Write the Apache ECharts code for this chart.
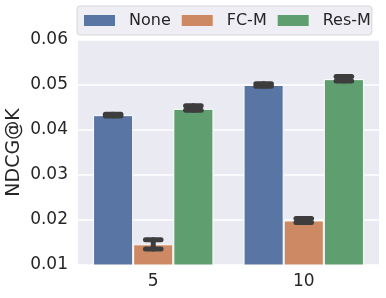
<!DOCTYPE html>
<html>
<head>
<meta charset="utf-8">
<script src="https://cdn.jsdelivr.net/npm/echarts@6/dist/echarts.min.js"></script>
<style>html,body{margin:0;padding:0;background:#fff;}#c{width:386px;height:298px;}</style>
</head>
<body>
<div id="c"></div>
<script>
var categories = ['5', '10'];
var seriesNames = ['None', 'FC-M', 'Res-M'];
var colors = ['#5975A4', '#CC8963', '#5F9E6E'];
var noneVals = [0.0433, 0.0500];
var fcmVals = [0.0146, 0.0199];
var resmVals = [0.0447, 0.0513];
var noneLow = [0.0431, 0.0497];
var noneHigh = [0.0435, 0.0503];
var fcmLow = [0.01356, 0.01945];
var fcmHigh = [0.01562, 0.02035];
var resmLow = [0.0444, 0.0509];
var resmHigh = [0.0454, 0.0519];
var yTicks = [0.01, 0.02, 0.03, 0.04, 0.05, 0.06];

var vals = [noneVals, fcmVals, resmVals];
var lows = [noneLow, fcmLow, resmLow];
var highs = [noneHigh, fcmHigh, resmHigh];
var FONT = 'DejaVu Sans';
var TXT = '#262626';

var chart = echarts.init(document.getElementById('c'), null, {renderer: 'canvas'});

var series = [];
seriesNames.forEach(function (name, si) {
  series.push({
    name: name,
    type: 'bar',
    data: vals[si],
    barGap: '0%',
    barCategoryGap: '20%',
    itemStyle: {color: colors[si], borderColor: '#ffffff', borderWidth: 1},
    z: 2
  });
});
seriesNames.forEach(function (name, si) {
  var errData = categories.map(function (c, ci) { return [ci, lows[si][ci], highs[si][ci]]; });
  series.push({
    type: 'custom',
    name: name + '-err',
    z: 5,
    silent: true,
    data: errData,
    encode: {x: 0, y: [1, 2]},
    renderItem: function (params, api) {
      var ci = api.value(0);
      var lo = api.coord([ci, api.value(1)]);
      var hi = api.coord([ci, api.value(2)]);
      var catW = api.size([1, 0])[0];
      var bw = catW * 0.8 / 3;
      var x = lo[0] + (si - 1) * bw;
      var h = 7.8;
      var st = {stroke: '#3D3D3D', lineWidth: 5, lineCap: 'round'};
      return {
        type: 'group',
        children: [
          {type: 'line', shape: {x1: x, y1: lo[1], x2: x, y2: hi[1]}, style: st},
          {type: 'line', shape: {x1: x - h, y1: lo[1], x2: x + h, y2: lo[1]}, style: st},
          {type: 'line', shape: {x1: x - h, y1: hi[1], x2: x + h, y2: hi[1]}, style: st}
        ]
      };
    }
  });
});

chart.setOption({
  animation: false,
  backgroundColor: '#ffffff',
  textStyle: {fontFamily: FONT},
  grid: {left: 78, right: 7, top: 40, bottom: 33, show: true, backgroundColor: '#EAEAF2', borderWidth: 0,
    containLabel: false, outerBoundsMode: 'none'},
  legend: {
    data: seriesNames.map(function (n) { return {name: n, icon: 'rect'}; }),
    left: 77, top: 6,
    padding: [4, 1, 4, 7],
    itemWidth: 31, itemHeight: 11, itemGap: 11,
    itemStyle: {borderWidth: 0},
    backgroundColor: '#EEEEF4',
    borderColor: '#D6D6D6', borderWidth: 1, borderRadius: 3,
    textStyle: {fontFamily: FONT, fontSize: 16, color: TXT, padding: [0, 0, 0, 9], lineHeight: 21}
  },
  xAxis: {
    type: 'category',
    data: categories,
    axisLine: {show: false},
    axisTick: {show: false},
    splitLine: {show: false},
    axisLabel: {fontFamily: FONT, fontSize: 17, color: TXT, margin: 8}
  },
  yAxis: {
    type: 'value',
    min: yTicks[0], max: yTicks[yTicks.length - 1], interval: 0.01,
    name: 'NDCG@K', nameLocation: 'middle', nameGap: 54, nameMoveOverlap: false,
    nameTextStyle: {fontFamily: FONT, fontSize: 19, color: TXT},
    axisLine: {show: false},
    axisTick: {show: false},
    splitLine: {show: true, lineStyle: {color: '#ffffff', width: 1.5}},
    axisLabel: {fontFamily: FONT, fontSize: 17, color: TXT, margin: 10,
      formatter: function (v) { return v.toFixed(2); }}
  },
  series: series
});
</script>
</body>
</html>
